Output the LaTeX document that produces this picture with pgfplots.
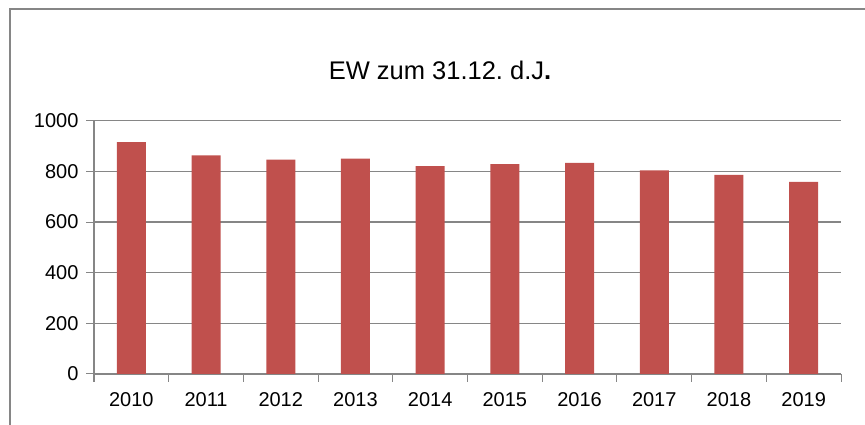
\documentclass[border=0pt]{standalone}
\usepackage{pgfplots}
\pgfplotsset{compat=1.18}
\usepackage{fontspec}
\setmainfont{Liberation Sans}
\definecolor{barred}{HTML}{C0504D}
\definecolor{axgray}{HTML}{868686}
\frenchspacing
\begin{document}
\begin{tikzpicture}[x=1pt,y=1pt]
\useasboundingbox (0,0) rectangle (865,425);
\draw[line width=2pt, color=axgray] (10,0) -- (10,416) -- (865,416);
\node[anchor=base, font=\fontsize{25.5}{28}\selectfont] at (440,345) {EW zum 31.12.\ d.J\textbf{.}};
\begin{axis}[
  at={(94pt,51pt)}, anchor=south west,
  scale only axis, width=747pt, height=253.3pt,
  xmin=-0.5, xmax=9.5, ymin=0, ymax=1000,
  axis x line=bottom, axis y line=left,
  axis line style={-, draw=axgray, line width=1pt},
  xtick={-0.5,0.5,...,9.5},
  x tick label as interval,
  xticklabels={2010,2011,2012,2013,2014,2015,2016,2017,2018,2019},
  ytick={0,200,...,1000},
  tick align=outside,
  major tick length=8pt,
  tick style={draw=axgray, line width=1pt},
  ymajorgrids, grid style={draw=axgray, line width=1.2pt},
  ticklabel style={font=\fontsize{20}{23}\selectfont},
  /pgf/number format/assume math mode=true,
  /pgf/number format/1000 sep={},
  yticklabel style={xshift=-4pt},
  xticklabel style={yshift=-7pt},
  clip=false,
]
\addplot[ybar, bar width=29pt, fill=barred, draw=none] coordinates {
(0,915) (1,863) (2,846) (3,850) (4,821) (5,829) (6,833) (7,804) (8,786) (9,758)
};
\end{axis}
\end{tikzpicture}
\end{document}
